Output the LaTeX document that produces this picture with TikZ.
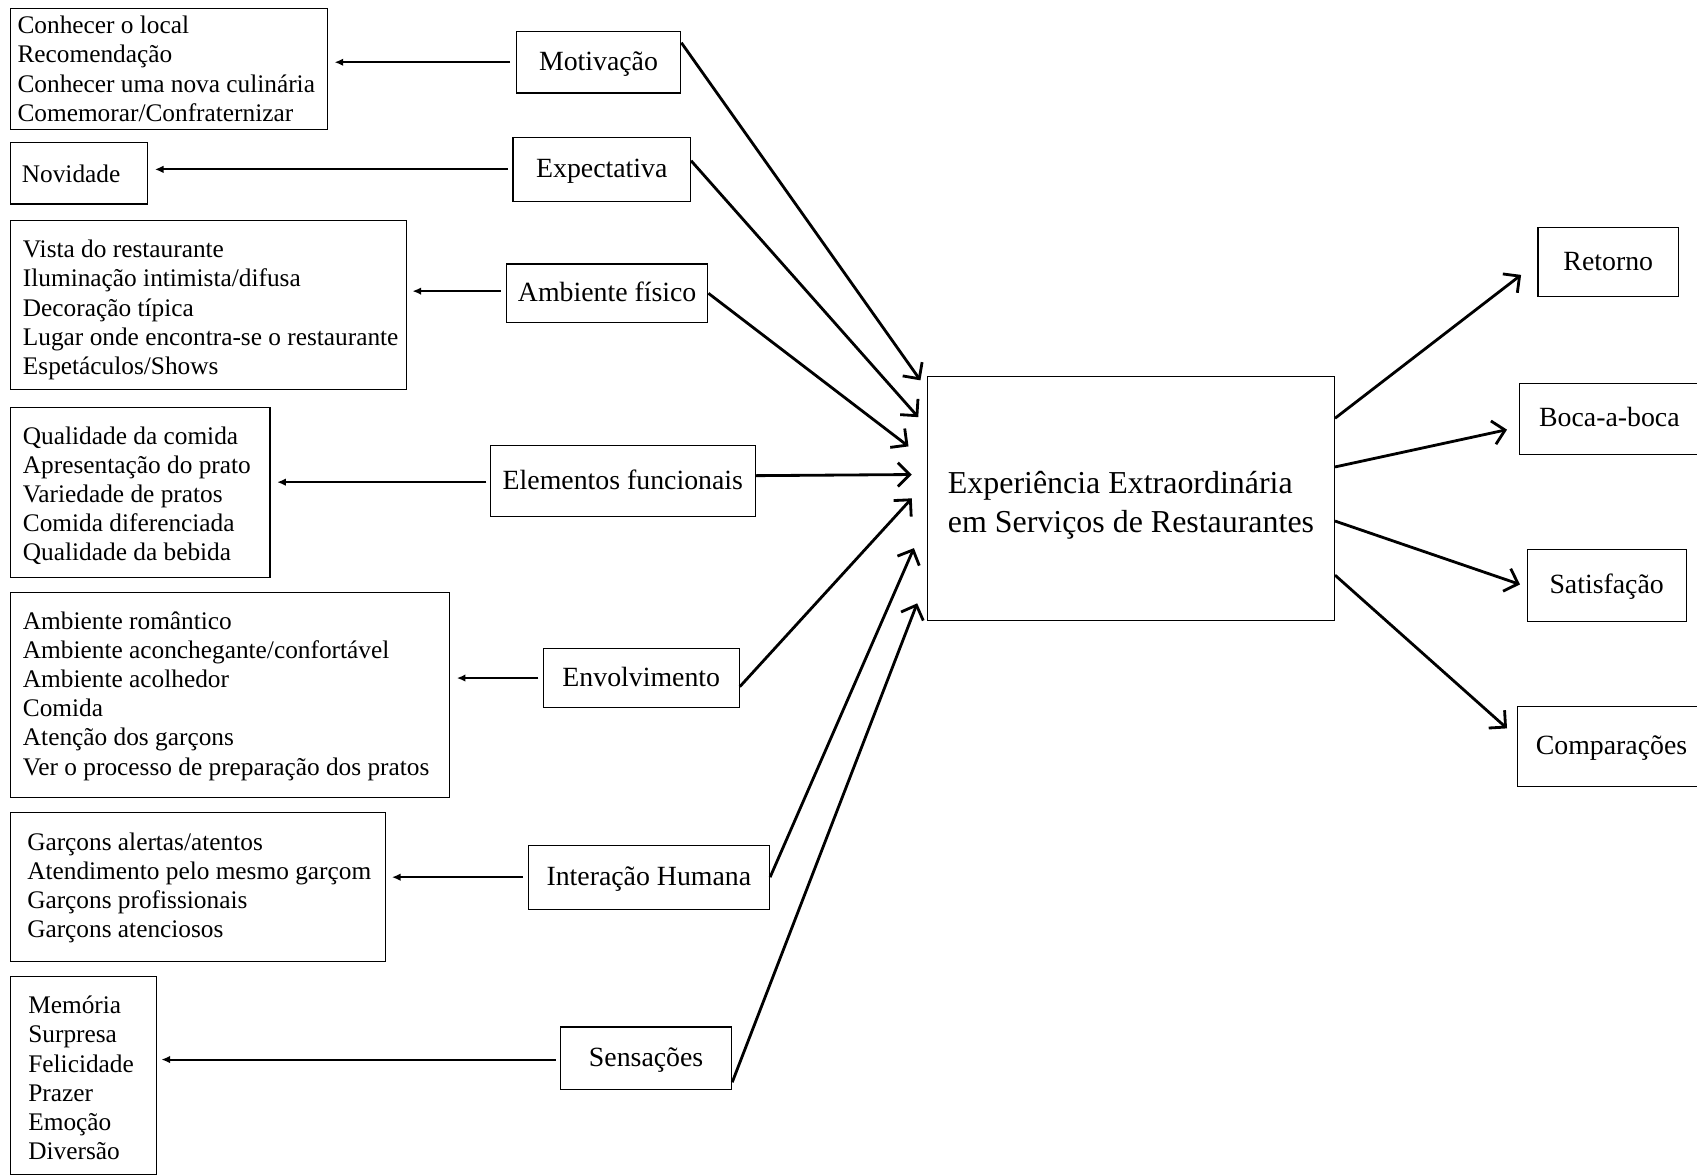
\documentclass[tikz,border=0pt]{standalone}
\usepackage{fontspec}
\setmainfont{Liberation Serif}
\usetikzlibrary{arrows.meta,calc}
\begin{document}
\begin{tikzpicture}[x=1pt,y=-1pt,
  box/.style={draw, line width=1.1pt, inner sep=0pt},
  mid/.style={box, text height=21pt, text depth=6pt, font=\fontsize{25.7}{30}\selectfont},
  lst/.style={align=left, inner sep=0pt, anchor=west, font=\fontsize{23.4}{27}\selectfont},
  smallarr/.style={line width=1.8pt, -{Latex[length=8pt,width=7pt]}},
  bigarr/.style={line width=2.6pt, -{Straight Barb[length=11pt,width=22pt]}}]
\useasboundingbox (0,0) rectangle (1568,1086);
\clip (0,0) rectangle (1568,1086);
\fill[white] (0,0) rectangle (1568,1086);
% middle boxes
\node[mid, minimum width=152pt, minimum height=57pt] (mot) at (553,57.5) {Motivação};
\node[mid, minimum width=164pt, minimum height=59pt] (exp) at (556,156.5) {Expectativa};
\node[mid, minimum width=186pt, minimum height=54pt] (amb) at (561,271) {Ambiente físico};
\node[mid, minimum width=245pt, minimum height=65pt] (ele) at (575.5,444.5) {Elementos funcionais};
\node[mid, minimum width=181pt, minimum height=55pt] (env) at (592.5,626.5) {Envolvimento};
\node[mid, minimum width=223pt, minimum height=59pt] (int) at (599.5,810.5) {Interação Humana};
\node[mid, minimum width=158pt, minimum height=58pt] (sen) at (597,978) {Sensações};
% list boxes
\node[box, anchor=north west, minimum width=293pt, minimum height=112pt] (l1) at (9,7) {};
\node[lst] (t1) at ($(l1.west)+(7,0)$) {Conhecer o local\\Recomendação\\Conhecer uma nova culinária\\Comemorar/Confraternizar};
\node[box, anchor=north west, minimum width=127pt, minimum height=57pt] (l2) at (9,131) {};
\node[lst] (t2) at ($(l2.west)+(11,1)$) {Novidade};
\node[box, anchor=north west, minimum width=366pt, minimum height=156pt] (l3) at (9,203) {};
\node[lst] (t3) at ($(l3.west)+(12,5)$) {Vista do restaurante\\Iluminação intimista/difusa\\Decoração típica\\Lugar onde encontra-se o restaurante\\Espetáculos/Shows};
\node[box, anchor=north west, minimum width=240pt, minimum height=157pt] (l4) at (9,376) {};
\node[lst] (t4) at ($(l4.west)+(12,3)$) {Qualidade da comida\\Apresentação do prato\\Variedade de pratos\\Comida diferenciada\\Qualidade da bebida};
\node[box, anchor=north west, minimum width=406pt, minimum height=189pt] (l5) at (9,547) {};
\node[lst] (t5) at ($(l5.west)+(12,1)$) {Ambiente romântico\\Ambiente aconchegante/confortável\\Ambiente acolhedor\\Comida\\Atenção dos garçons\\Ver o processo de preparação dos pratos};
\node[box, anchor=north west, minimum width=347pt, minimum height=138pt] (l6) at (9,750) {};
\node[lst] (t6) at ($(l6.west)+(16,1)$) {Garçons alertas/atentos\\Atendimento pelo mesmo garçom\\Garçons profissionais\\Garçons atenciosos};
\node[box, anchor=north west, minimum width=135pt, minimum height=183pt] (l7) at (9,902) {};
\node[lst] (t7) at ($(l7.west)+(17,2)$) {Memória\\Surpresa\\Felicidade\\Prazer\\Emoção\\Diversão};
% central box
\node[box, minimum width=376pt, minimum height=225pt, align=left, text height=73pt, text depth=10pt, font=\fontsize{29.5}{36}\selectfont] (C) at (1045,460.5) {Experiência Extraordinária\\em Serviços de Restaurantes};
% right boxes
\node[mid, minimum width=130pt, minimum height=64pt] (ret) at (1486,242) {Retorno};
\node[mid, minimum width=166pt, minimum height=66pt] (boc) at (1487,387) {Boca-a-boca};
\node[mid, minimum width=147pt, minimum height=66pt] (sat) at (1484.5,541) {Satisfação};
\node[mid, minimum width=174pt, minimum height=74pt] (com) at (1489,690) {Comparações};
% small arrows
\draw[smallarr] ($(mot.west)+(-5,0)$) -- ($(l1.east |- mot.west)+(6,0)$);
\draw[smallarr] ($(exp.west)+(-4,0)$) -- ($(l2.east |- exp.west)+(6,0)$);
\draw[smallarr] ($(amb.west)+(-5,-2)$) -- ($(l3.east |- amb.west)+(5,-2)$);
\draw[smallarr] ($(ele.west)+(-3,1)$) -- ($(l4.east |- ele.west)+(6,1)$);
\draw[smallarr] ($(env.west)+(-4,0)$) -- ($(l5.east |- env.west)+(6,0)$);
\draw[smallarr] ($(int.west)+(-4,0)$) -- ($(l6.east |- int.west)+(5,0)$);
\draw[smallarr] ($(sen.west)+(-4,1)$) -- ($(l7.east |- sen.west)+(4,1)$);
% big arrows into centre
\draw[bigarr] ($(mot.north east)+(0,11)$) -- ($(C.north west)+(-6,4)$);
\draw[bigarr] ($(exp.east)+(0,-8)$) -- ($(C.north west)+(-8,38)$);
\draw[bigarr] (amb.east) -- ($(C.north west)+(-17,65)$);
\draw[bigarr] ($(ele.east)+(0,-5)$) -- ($(C.north west)+(-14,91)$);
\draw[bigarr] ($(env.east)+(0,8)$) -- ($(C.north west)+(-14,113)$);
\draw[bigarr] (int.east) -- ($(C.north west)+(-12,159)$);
\draw[bigarr] ($(sen.east)+(0,22)$) -- ($(C.north west)+(-9,210)$);
% big arrows out of centre
\draw[bigarr] ($(C.north east)+(0,39)$) -- ($(ret.west)+(-15,12)$);
\draw[bigarr] ($(C.north east)+(0,84)$) -- ($(boc.west)+(-11,10)$);
\draw[bigarr] ($(C.north east)+(0,134)$) -- ($(sat.west)+(-6,-1)$);
\draw[bigarr] ($(C.north east)+(0,184)$) -- ($(com.west)+(-9,-17)$);
\end{tikzpicture}
\end{document}
